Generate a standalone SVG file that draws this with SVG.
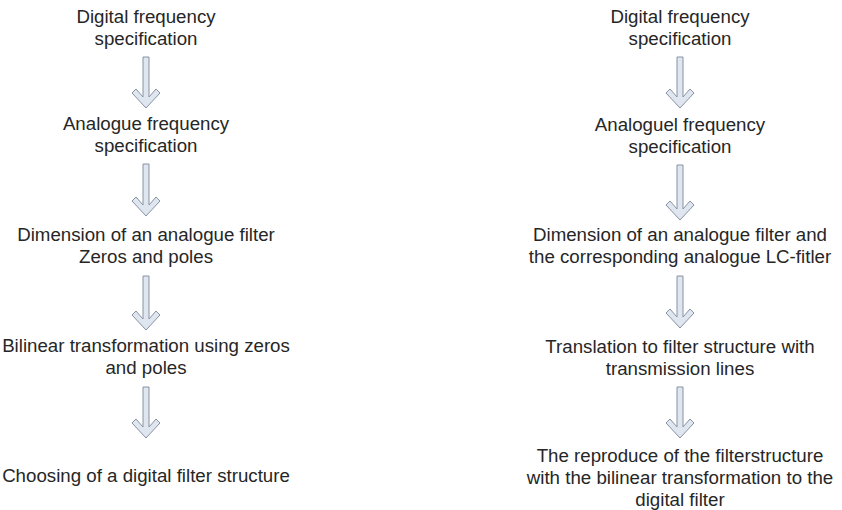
<svg xmlns="http://www.w3.org/2000/svg" width="842" height="510" viewBox="0 0 842 510">
<style>
text{font-family:"Liberation Sans",Arial,sans-serif;font-size:18.7px;fill:#262626;text-anchor:middle}
.arr{fill:#dfe6f0;stroke:#8792a2;stroke-width:1;stroke-linejoin:miter}
</style>
<rect width="842" height="510" fill="#ffffff"/>
<g id="L1"><text x="146" y="23">Digital frequency</text><text x="146" y="45">specification</text></g>
<g id="L2"><text x="146" y="130">Analogue frequency</text><text x="146" y="152">specification</text></g>
<g id="L3"><text x="146" y="241">Dimension of an analogue filter</text><text x="146" y="263">Zeros and poles</text></g>
<g id="L4"><text x="146" y="352">Bilinear transformation using zeros</text><text x="146" y="374">and poles</text></g>
<g id="L5"><text x="146" y="482">Choosing of a digital filter structure</text></g>
<g id="R1"><text x="680" y="23">Digital frequency</text><text x="680" y="45">specification</text></g>
<g id="R2"><text x="680" y="131">Analoguel frequency</text><text x="680" y="153">specification</text></g>
<g id="R3"><text x="680" y="241">Dimension of an analogue filter and</text><text x="680" y="263">the corresponding analogue LC-fitler</text></g>
<g id="R4"><text x="680" y="353">Translation to filter structure with</text><text x="680" y="375">transmission lines</text></g>
<g id="R5"><text x="680" y="462">The reproduce of the filterstructure</text><text x="680" y="484">with the bilinear transformation to the</text><text x="680" y="506">digital filter</text></g>
<g id="connectors">
<path class="arr" d="M143,57 H149 V97 L156,89 L160,93 L146,108 L132,93 L136,89 L143,97 Z"/>
<path class="arr" d="M143,164 H149 V205 L156,197 L160,201 L146,216 L132,201 L136,197 L143,205 Z"/>
<path class="arr" d="M143,276 H149 V319 L156,311 L160,315 L146,330 L132,315 L136,311 L143,319 Z"/>
<path class="arr" d="M143,387 H149 V427 L156,419 L160,423 L146,438 L132,423 L136,419 L143,427 Z"/>
<path class="arr" d="M677,57 H683 V97 L690,89 L694,93 L680,108 L666,93 L670,89 L677,97 Z"/>
<path class="arr" d="M677,165 H683 V209 L690,201 L694,205 L680,220 L666,205 L670,201 L677,209 Z"/>
<path class="arr" d="M677,276 H683 V317 L690,309 L694,313 L680,328 L666,313 L670,309 L677,317 Z"/>
<path class="arr" d="M677,387 H683 V427 L690,419 L694,423 L680,438 L666,423 L670,419 L677,427 Z"/>
</g>
</svg>
